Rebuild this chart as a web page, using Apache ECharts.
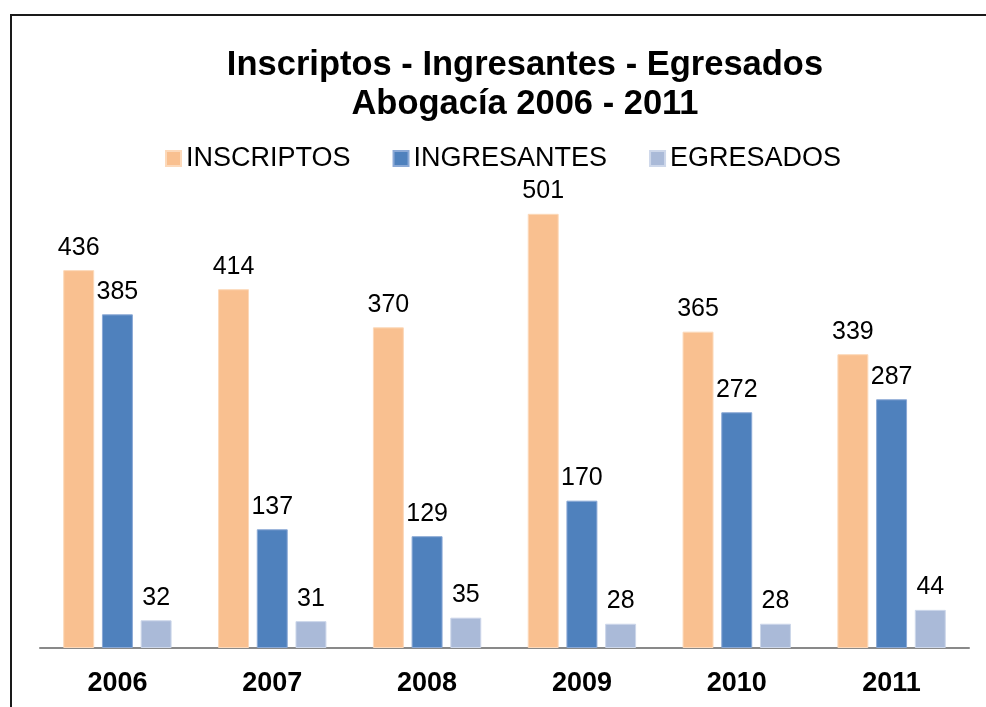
<!DOCTYPE html>
<html>
<head>
<meta charset="utf-8">
<script src="https://cdn.jsdelivr.net/npm/echarts@6/dist/echarts.min.js"></script>
<style>
  html, body { margin: 0; padding: 0; background: #fff; }
  #chart { width: 986px; height: 707px; }
</style>
</head>
<body>
<div id="chart"></div>
<script>
// datos
const years = ["2006", "2007", "2008", "2009", "2010", "2011"];
const inscriptos = [436, 414, 370, 501, 365, 339];
const ingresantes = [385, 137, 129, 170, 272, 287];
const egresados = [32, 31, 35, 28, 28, 44];

const chart = echarts.init(document.getElementById("chart"));

const font = "Liberation Sans, Arial, sans-serif";

const labelStyle = {
  show: true,
  position: "top",
  distance: 10,
  color: "#000",
  fontSize: 25,
  fontFamily: font
};

chart.setOption({
  animation: false,
  title: {
    text: "Inscriptos - Ingresantes - Egresados\nAbogacía 2006 - 2011",
    left: 520,
    top: 41,
    textAlign: "center",
    textStyle: {
      fontSize: 34.5,
      fontWeight: "bold",
      color: "#000",
      lineHeight: 39,
      fontFamily: font
    }
  },
  legend: {
    top: 145,
    left: 165,
    padding: 0,
    itemWidth: 15,
    itemHeight: 15,
    itemGap: 42,
    icon: "rect",
    textStyle: {
      fontSize: 27,
      color: "#000",
      fontFamily: font
    },
    data: ["INSCRIPTOS", "INGRESANTES", "EGRESADOS"]
  },
  graphic: [
    {
      type: "rect",
      shape: { x: 11, y: 15, width: 1000, height: 800 },
      style: { fill: "none", stroke: "#1a1a1a", lineWidth: 2 },
      silent: true
    }
  ],
  grid: {
    left: 40,
    right: 17,
    top: 128,
    bottom: 59
  },
  xAxis: {
    type: "category",
    data: years,
    axisTick: { show: false },
    axisLine: { lineStyle: { color: "#898989", width: 2 } },
    axisLabel: {
      margin: 22,
      color: "#000",
      fontSize: 27,
      fontWeight: "bold",
      fontFamily: font
    }
  },
  yAxis: {
    type: "value",
    min: 0,
    max: 600,
    show: false,
    splitLine: { show: false }
  },
  series: [
    {
      name: "INSCRIPTOS",
      type: "bar",
      barWidth: "20%",
      barGap: "25%",
      data: inscriptos,
      itemStyle: { color: "#F9C090", borderColor: "#FCD9BA", borderWidth: 1 },
      label: labelStyle
    },
    {
      name: "INGRESANTES",
      type: "bar",
      barWidth: "20%",
      barGap: "25%",
      data: ingresantes,
      itemStyle: { color: "#4F81BD", borderColor: "#8BA9D6", borderWidth: 1 },
      label: labelStyle
    },
    {
      name: "EGRESADOS",
      type: "bar",
      barWidth: "20%",
      barGap: "25%",
      data: egresados,
      itemStyle: { color: "#AABAD8", borderColor: "#CDD7EA", borderWidth: 1 },
      label: labelStyle
    }
  ]
});
</script>
</body>
</html>
